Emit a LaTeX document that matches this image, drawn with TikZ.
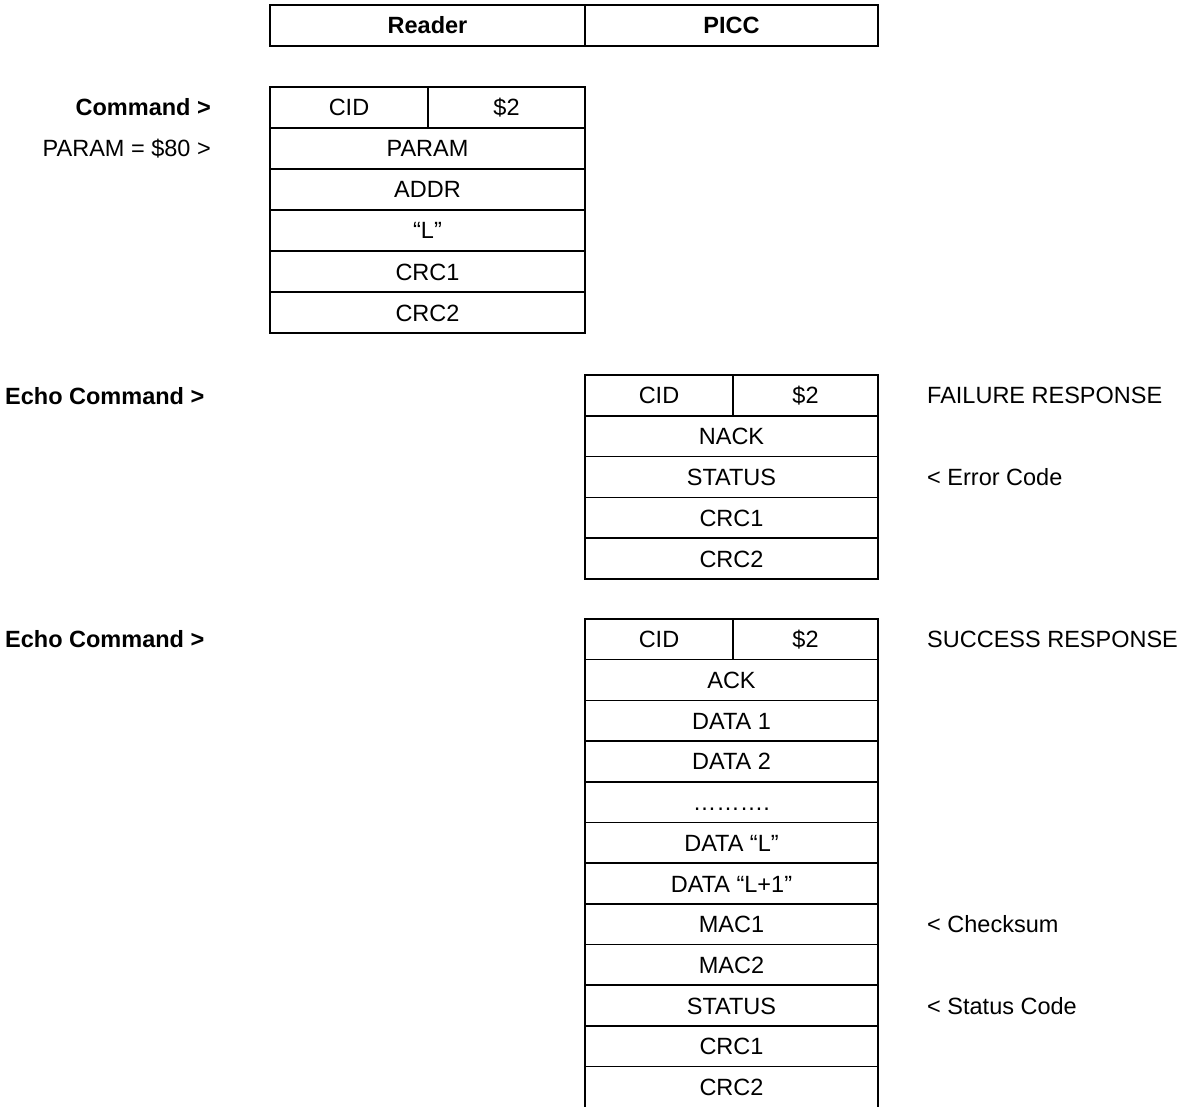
\documentclass[tikz,border=0pt]{standalone}
\usepackage{fontspec}
\setmainfont{Liberation Sans}
\begin{document}
\begin{tikzpicture}[x=1pt,y=-1pt,
  every node/.style={font=\fontsize{23.5}{28}\selectfont, inner sep=0pt, text height=17pt, text depth=0pt},
  cell/.style={draw, line width=1.6pt, minimum height=41pt},
  lab/.style={},
]
\useasboundingbox (0,0) rectangle (1190,1107);
\clip (0,0) rectangle (1190,1106);
% header
\node[cell, minimum width=315pt, font=\fontsize{23.5}{28}\selectfont\bfseries] (hr) at (427.5,25.5) {Reader};
\node[cell, minimum width=293pt, font=\fontsize{23.5}{28}\selectfont\bfseries] (hp) at (731.5,25.5) {PICC};
% command frame
\node[cell, minimum width=158pt] (ccid) at (349,107.5) {CID};
\node[cell, minimum width=157pt] (cdol) at (506.5,107.5) {\$2};
\node[cell, minimum width=315pt] (cparam) at (427.5,148.5) {PARAM};
\node[cell, minimum width=315pt] (caddr) at (427.5,189.5) {ADDR};
\node[cell, minimum width=315pt] (cl) at (427.5,230.5) {“L”};
\node[cell, minimum width=315pt] (ccrc1) at (427.5,271.5) {CRC1};
\node[cell, minimum width=315pt] (ccrc2) at (427.5,312.5) {CRC2};
\node[lab, anchor=east, font=\fontsize{23.5}{28}\selectfont\bfseries] (lcmd) at (211,107.5) {Command >};
\node[lab, anchor=east] (lparam) at (211,148.5) {PARAM = \$80 >};
% failure response
\node[lab, anchor=west, font=\fontsize{23.5}{28}\selectfont\bfseries] (lecho1) at (5,395.5) {Echo Command >};
\node[cell, minimum width=148pt, minimum height=40.8pt] (fcid) at (659,395.4) {CID};
\node[cell, minimum width=145pt, minimum height=40.8pt] (fdol) at (805.5,395.4) {\$2};
\node[cell, minimum width=293pt, minimum height=40.8pt] (fnack) at (731.5,436.2) {NACK};
\node[cell, minimum width=293pt, minimum height=40.8pt] (fstat) at (731.5,477) {STATUS};
\node[cell, minimum width=293pt, minimum height=40.8pt] (fcrc1) at (731.5,517.8) {CRC1};
\node[cell, minimum width=293pt, minimum height=40.8pt] (fcrc2) at (731.5,558.6) {CRC2};
\node[lab, anchor=west] (lfail) at (927,395.4) {FAILURE RESPONSE};
\node[lab, anchor=west] (lerr) at (927,477) {< Error Code};
% success response
\node[lab, anchor=west, font=\fontsize{23.5}{28}\selectfont\bfseries] (lecho2) at (5,639.3) {Echo Command >};
\node[cell, minimum width=148pt, minimum height=40.7pt] (scid) at (659,639.3) {CID};
\node[cell, minimum width=145pt, minimum height=40.7pt] (sdol) at (805.5,639.3) {\$2};
\node[cell, minimum width=293pt, minimum height=40.7pt] (sack) at (731.5,680) {ACK};
\node[cell, minimum width=293pt, minimum height=40.7pt] (sd1) at (731.5,720.7) {DATA 1};
\node[cell, minimum width=293pt, minimum height=40.7pt] (sd2) at (731.5,761.4) {DATA 2};
\node[cell, minimum width=293pt, minimum height=40.7pt] (sdots) at (731.5,802.1) {……….};
\node[cell, minimum width=293pt, minimum height=40.7pt] (sdl) at (731.5,842.8) {DATA “L”};
\node[cell, minimum width=293pt, minimum height=40.7pt] (sdl1) at (731.5,883.5) {DATA “L+1”};
\node[cell, minimum width=293pt, minimum height=40.7pt] (smac1) at (731.5,924.2) {MAC1};
\node[cell, minimum width=293pt, minimum height=40.7pt] (smac2) at (731.5,964.9) {MAC2};
\node[cell, minimum width=293pt, minimum height=40.7pt] (sstat) at (731.5,1005.6) {STATUS};
\node[cell, minimum width=293pt, minimum height=40.7pt] (scrc1) at (731.5,1046.3) {CRC1};
\node[cell, minimum width=293pt, minimum height=40.7pt] (scrc2) at (731.5,1087) {CRC2};
\node[lab, anchor=west] (lsucc) at (927,639.3) {SUCCESS RESPONSE};
\node[lab, anchor=west] (lchk) at (927,924.2) {< Checksum};
\node[lab, anchor=west] (lstc) at (927,1005.6) {< Status Code};
\end{tikzpicture}
\end{document}
